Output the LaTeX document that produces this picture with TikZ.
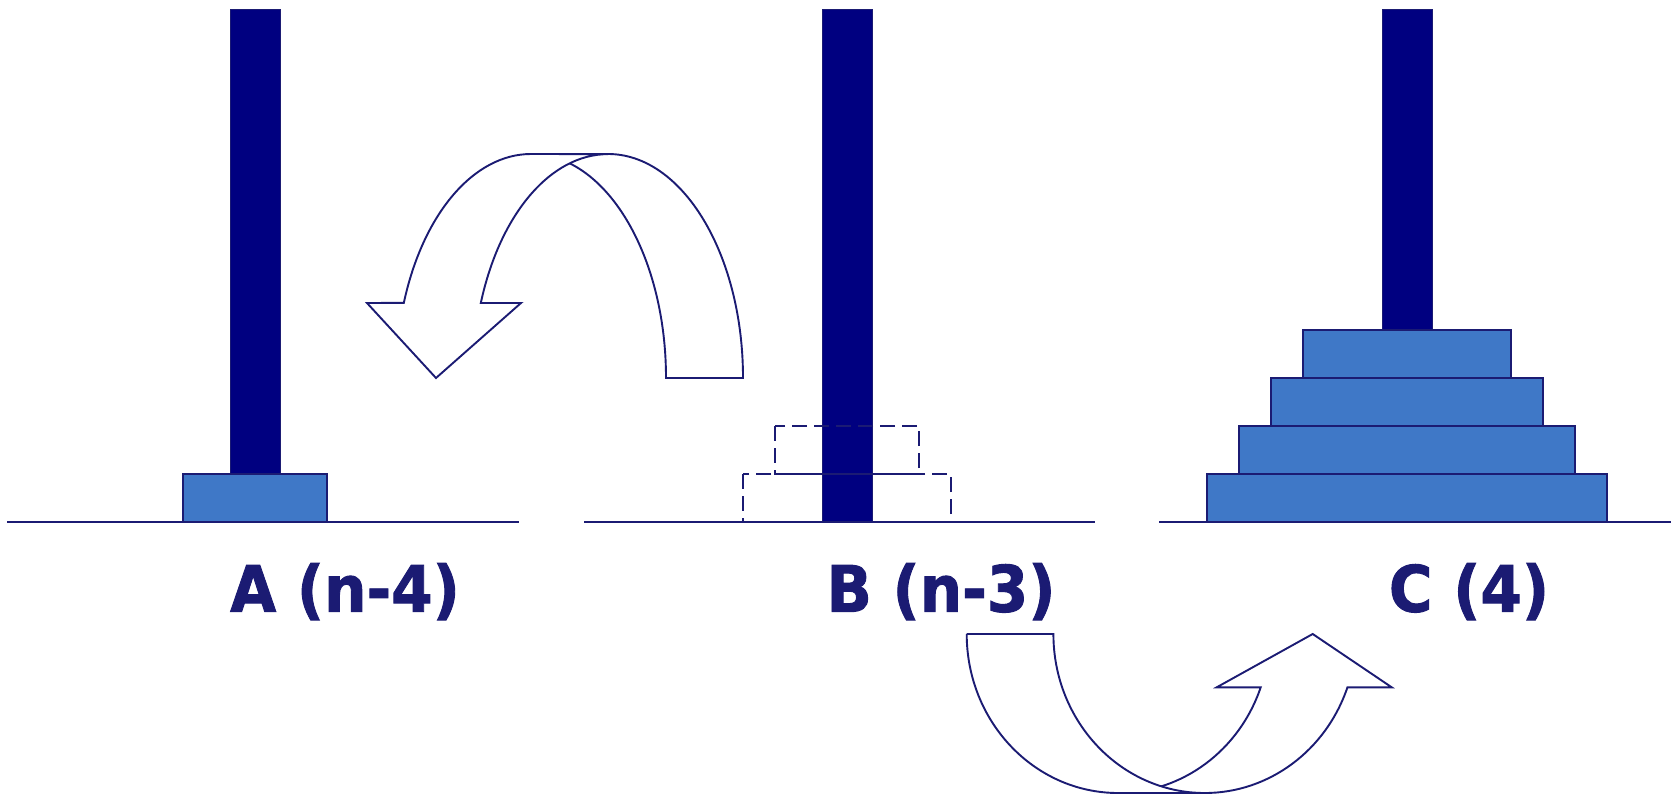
\documentclass[tikz,border=0pt]{standalone}
\usepackage{fontspec}
\newfontfamily\lblfont{DejaVu Sans}[BoldFeatures={FakeBold=1.5}]
\definecolor{navyline}{RGB}{27,27,115}
\definecolor{polefill}{RGB}{0,0,128}
\definecolor{diskfill}{RGB}{63,120,199}
\tikzset{
  groundline/.style={draw=navyline, line width=2pt},
  polebar/.style={fill=polefill, draw=navyline, line width=1pt},
  diskbox/.style={fill=diskfill, draw=navyline, line width=2pt},
  ghostbox/.style={draw=navyline, line width=2pt, dash pattern=on 15pt off 7pt},
  bandshape/.style={fill=white, draw=navyline, line width=1.9pt, line join=miter},
  lbl/.style={text=navyline, font=\lblfont\bfseries\fontsize{64}{64}\selectfont, inner sep=0pt, anchor=base},
  upE/.style={x radius=135pt, y radius=224pt},
  loE/.style={x radius=151.4pt, y radius=159pt}
}
\begin{document}
\begin{tikzpicture}[x=1pt,y=1pt]
\useasboundingbox (0,0) rectangle (1677,-797);
\fill[white] (0,0) rectangle (1677,-797);

% poles
\draw[polebar] (230,-10) rectangle (280,-474);
\draw[polebar] (822,-10) rectangle (872,-522);
\draw[polebar] (1382,-10) rectangle (1432,-330);

% disks
\draw[diskbox] (183,-474) rectangle (327,-522);
\draw[diskbox] (1207,-474) rectangle (1607,-522);
\draw[diskbox] (1239,-426) rectangle (1575,-474);
\draw[diskbox] (1271,-378) rectangle (1543,-426);
\draw[diskbox] (1303,-330) rectangle (1511,-378);

% ghost disks on B
\draw[ghostbox] (775,-426) rectangle (919,-474);
\draw[ghostbox] (743,-474) rectangle (951,-522);

% base lines
\draw[groundline] (7,-522) -- (519,-522);
\draw[groundline] (584,-522) -- (1095,-522);
\draw[groundline] (1159,-522) -- (1671,-522);

% upper curved arrow (B -> A): tail band behind, head band in front
\draw[bandshape] (666,-378) -- (743,-378) arc[start angle=0, end angle=90, upE]
  -- (531,-154) arc[start angle=90, end angle=0, upE] -- cycle;
\draw[bandshape] (531,-154) arc[start angle=90, end angle=160.4, upE]
  -- (367,-303) -- (436,-378) -- (521,-303) -- (480.8,-303)
  arc[start angle=160.4, end angle=90, upE] -- cycle;

% lower curved arrow (B -> C): head band behind, tail band in front
\draw[bandshape] (1118.1,-793) -- (1204.8,-793) arc[start angle=270, end angle=340.4, loE]
  -- (1391.7,-687.3) -- (1312.7,-634) -- (1216.7,-687.3) -- (1260.7,-687.3)
  arc[start angle=340.4, end angle=270, loE] -- cycle;
\draw[bandshape] (966.7,-634) -- (1053.4,-634) arc[start angle=180, end angle=270, loE]
  -- (1118.1,-793) arc[start angle=270, end angle=180, loE] -- cycle;

% labels
\node[lbl] (labA) at (345,-611.7) {\scalebox{0.93}[1]{A (n-4)}};
\node[lbl] (labB) at (941,-611.7) {\scalebox{0.93}[1]{B (n-3)}};
\node[lbl] (labC) at (1469,-611.7) {\scalebox{0.93}[1]{C (4)}};
\end{tikzpicture}
\end{document}
